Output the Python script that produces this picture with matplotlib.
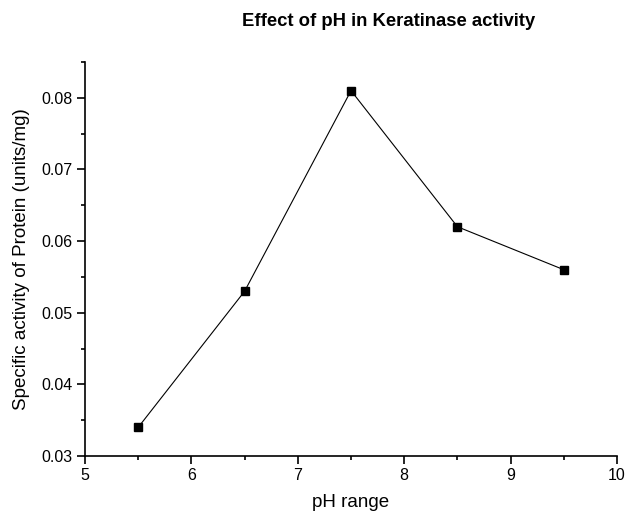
import numpy as np
import matplotlib
matplotlib.use('Agg')
import matplotlib.pyplot as plt
from matplotlib.ticker import MultipleLocator

plt.rcParams['font.family'] = ['Liberation Sans', 'DejaVu Sans']

ph = [5.5, 6.5, 7.5, 8.5, 9.5]
activity = [0.034, 0.053, 0.081, 0.062, 0.056]

fig = plt.figure(figsize=(6.27, 5.16), dpi=100)
ax = fig.add_axes([0.1356, 0.1163, 0.8485, 0.7636])

ax.plot(ph, activity, color='black', linewidth=0.8, marker='s',
        markersize=5.5, markerfacecolor='black', markeredgecolor='black')

ax.set_xlim(5, 10)
ax.set_ylim(0.03, 0.085)
ax.set_xticks([5, 6, 7, 8, 9, 10])
ax.set_yticks([0.03, 0.04, 0.05, 0.06, 0.07, 0.08])
ax.set_yticklabels(['0.03', '0.04', '0.05', '0.06', '0.07', '0.08'])
ax.xaxis.set_minor_locator(MultipleLocator(0.5))
ax.yaxis.set_minor_locator(MultipleLocator(0.005))

ax.spines['top'].set_visible(False)
ax.spines['right'].set_visible(False)
for s in ['left', 'bottom']:
    ax.spines[s].set_linewidth(1.2)

ax.tick_params(which='major', direction='out', length=5.8, width=1.2, labelsize=11.5, pad=3)
ax.tick_params(which='minor', direction='out', length=3.2, width=1.2)

ax.set_xlabel('pH range', fontsize=13.5, labelpad=8)
ax.set_ylabel('Specific activity of Protein (units/mg)', fontsize=13.5, labelpad=8)

fig.text(0.619, 0.958, 'Effect of pH in Keratinase activity', ha='center', va='center',
         fontsize=13.3, fontweight='bold')

fig.savefig('out.png', dpi=100)
